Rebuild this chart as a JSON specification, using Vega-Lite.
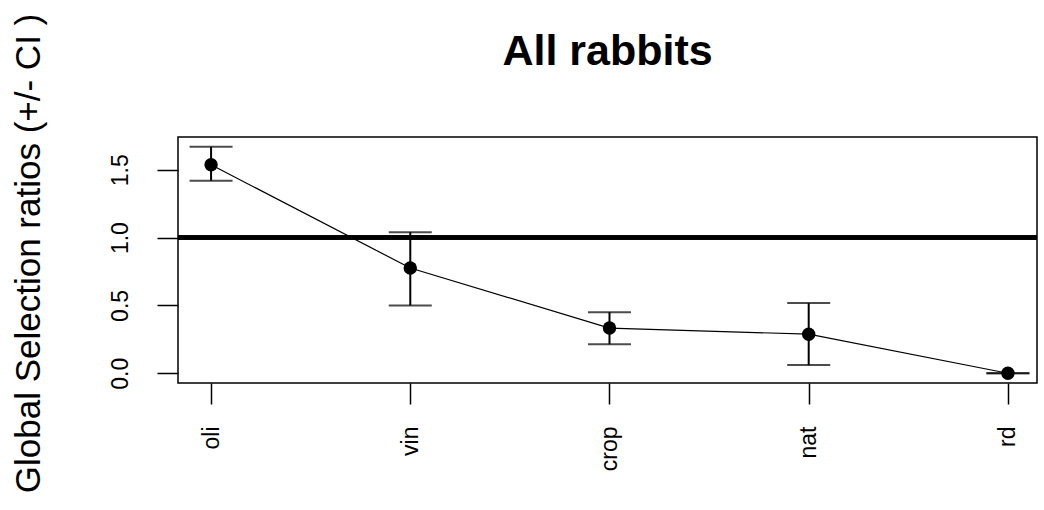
{
  "$schema": "https://vega.github.io/schema/vega-lite/v6.json",
  "autosize": "none",
  "width": 859,
  "height": 246,
  "padding": {"left": 178, "top": 137, "right": 7, "bottom": 127},
  "background": "white",
  "config": {
    "font": "Liberation Sans",
    "view": {"stroke": "black", "strokeWidth": 1.5}
  },
  "title": {
    "text": "All rabbits",
    "fontSize": 43,
    "fontWeight": "bold",
    "font": "Liberation Sans",
    "color": "black",
    "anchor": "middle",
    "frame": "group",
    "baseline": "alphabetic",
    "offset": 72,
    "dy": 167
  },
  "data": {
    "values": [
      {"i": 1, "habitat": "oli", "ratio": 1.537, "lo": 1.42, "hi": 1.67},
      {"i": 2, "habitat": "vin", "ratio": 0.776, "lo": 0.50, "hi": 1.04},
      {"i": 3, "habitat": "crop", "ratio": 0.333, "lo": 0.214, "hi": 0.45},
      {"i": 4, "habitat": "nat", "ratio": 0.288, "lo": 0.06, "hi": 0.517},
      {"i": 5, "habitat": "rd", "ratio": 0.0, "lo": 0.0, "hi": 0.0}
    ]
  },
  "encoding": {
    "x": {
      "field": "i",
      "type": "quantitative",
      "scale": {"domain": [0.834, 5.146], "nice": false, "zero": false},
      "axis": {
        "title": null,
        "values": [1, 2, 3, 4, 5],
        "labelExpr": "['oli','vin','crop','nat','rd'][datum.value - 1]",
        "grid": false,
        "domain": false,
        "tickColor": "black",
        "tickWidth": 1.5,
        "tickSize": 21,
        "labelAngle": 270,
        "labelAlign": "right",
        "labelBaseline": "middle",
        "labelPadding": 22,
        "labelFontSize": 23,
        "labelColor": "black",
        "labelFont": "Liberation Sans"
      }
    }
  },
  "layer": [
    {
      "mark": {"type": "rule", "color": "black", "strokeWidth": 4},
      "encoding": {"x": null, "y": {"datum": 1, "type": "quantitative"}}
    },
    {
      "mark": {"type": "line", "color": "black", "strokeWidth": 1.2},
      "encoding": {
        "y": {
          "field": "ratio",
          "type": "quantitative",
          "scale": {"domain": [-0.072, 1.742], "nice": false, "zero": false},
          "axis": {
            "title": "Global Selection ratios (+/- CI )",
            "values": [0, 0.5, 1, 1.5],
            "format": ".1f",
            "grid": false,
            "domain": false,
            "tickColor": "black",
            "tickWidth": 1.5,
            "tickSize": 21,
            "labelAngle": 270,
            "labelAlign": "center",
            "labelBaseline": "alphabetic",
            "labelPadding": 30,
            "labelFontSize": 23,
            "labelColor": "black",
            "labelFont": "Liberation Sans",
            "titleFont": "Liberation Sans",
            "titleFontSize": 35,
            "titleFontWeight": "normal",
            "titleColor": "black",
            "titleAngle": 270,
            "titleAlign": "center",
            "titleBaseline": "middle",
            "titleX": -150,
            "titleY": 116
          }
        }
      }
    },
    {
      "mark": {"type": "rule", "color": "black", "strokeWidth": 2},
      "encoding": {
        "y": {"field": "lo", "type": "quantitative"},
        "y2": {"field": "hi"}
      }
    },
    {
      "mark": {"type": "tick", "orient": "horizontal", "color": "black", "size": 43, "thickness": 2},
      "encoding": {"y": {"field": "lo", "type": "quantitative"}}
    },
    {
      "mark": {"type": "tick", "orient": "horizontal", "color": "black", "size": 43, "thickness": 2},
      "encoding": {"y": {"field": "hi", "type": "quantitative"}}
    },
    {
      "mark": {"type": "point", "filled": true, "color": "black", "opacity": 1, "size": 180, "shape": "circle"},
      "encoding": {"y": {"field": "ratio", "type": "quantitative"}}
    }
  ]
}
